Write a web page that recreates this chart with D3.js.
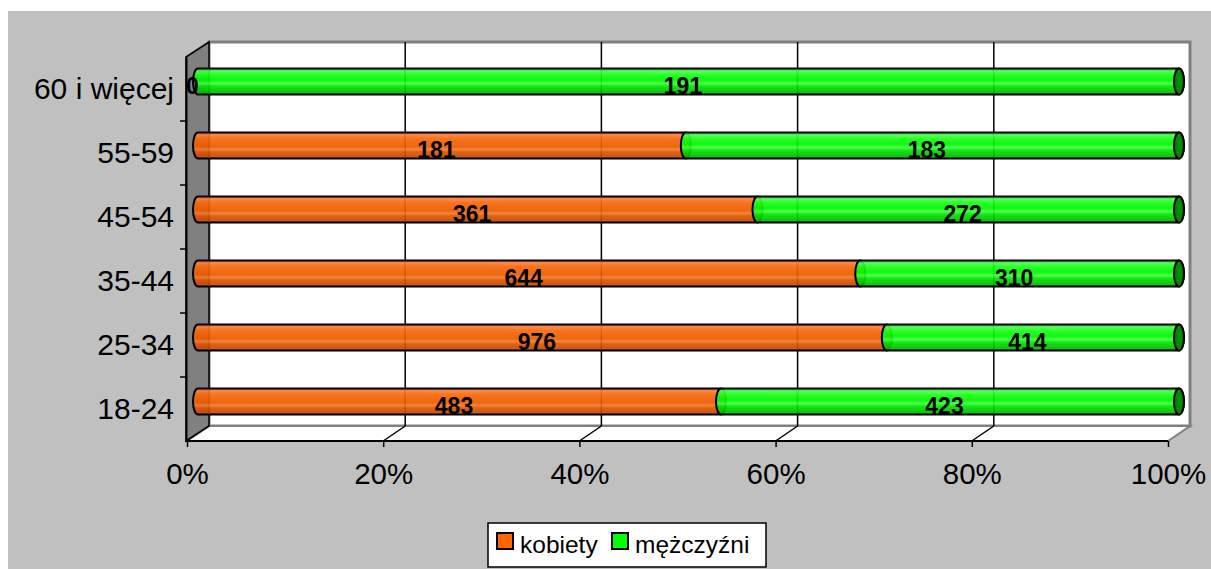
<!DOCTYPE html>
<html><head><meta charset="utf-8">
<script src="https://cdn.jsdelivr.net/npm/d3@7/dist/d3.min.js"></script>
<style>body{margin:0;background:#fff}svg{display:block}text{font-family:"Liberation Sans",Arial,sans-serif}</style>
</head><body>
<svg id="c" width="1211" height="569"></svg>
<script>
const categories = ["18-24","25-34","35-44","45-54","55-59","60 i więcej"];
const kobiety = [483, 976, 644, 361, 181, 0];
const mezczyzni = [423, 414, 310, 272, 183, 191];
const seriesNames = ["kobiety","mężczyźni"];
const xTicks = [0,0.2,0.4,0.6,0.8,1];

const svg = d3.select("#c");
const W=1211,H=569;
const DX=22, DY=-15;
const x = d3.scaleLinear().domain([0,1]).range([187,1168]);
const y = d3.scaleBand().domain(categories).range([441,57]).padding(0);
const x0=x(0), x1=x(1), yb=y.range()[0], yt=y.range()[1];

svg.append("rect").attr("x",8).attr("y",11).attr("width",W-8).attr("height",H-11).attr("fill","#C0C0C0");

const defs = svg.append("defs");
function grad(id, stops){
  const g = defs.append("linearGradient").attr("id",id).attr("x1",0).attr("y1",0).attr("x2",0).attr("y2",1);
  stops.forEach(s=>g.append("stop").attr("offset",s[0]).attr("stop-color",s[1]));
}
grad("gO",[[0,"#F06410"],[0.12,"#FF8030"],[0.22,"#F86812"],[0.42,"#F06000"],[0.55,"#E85C00"],[0.65,"#F87828"],[0.75,"#DC5600"],[1,"#B84800"]]);
grad("gG",[[0,"#00E400"],[0.12,"#4CFF4C"],[0.25,"#14FF14"],[0.45,"#00F400"],[0.58,"#38FF38"],[0.7,"#00E000"],[0.85,"#00C800"],[1,"#00AA00"]]);

// back wall
svg.append("rect").attr("x",x0+DX).attr("y",yt+DY).attr("width",x1-x0).attr("height",yb-yt)
  .attr("fill","#fff").attr("stroke","#808080").attr("stroke-width",3);
// floor
svg.append("polygon").attr("points",[[x0,yb],[x0+DX,yb+DY],[x1+DX,yb+DY],[x1,yb]].join(" "))
  .attr("fill","#fff").attr("stroke","#808080").attr("stroke-width",2);
// left wall
svg.append("polygon").attr("points",[[x0-1,yt],[x0+DX,yt+DY],[x0+DX,yb+DY],[x0-1,yb]].join(" "))
  .attr("fill","#808080").attr("stroke","#000").attr("stroke-width",1.5);
// gridlines back wall
svg.append("g").selectAll("line").data(xTicks.slice(1,-1)).join("line")
  .attr("x1",d=>x(d)+DX).attr("x2",d=>x(d)+DX).attr("y1",yt+DY).attr("y2",yb+DY)
  .attr("stroke","#000").attr("stroke-width",1.5);
// floor diagonals
svg.append("g").selectAll("line").data(xTicks.slice(1,-1)).join("line")
  .attr("x1",d=>x(d)).attr("x2",d=>x(d)+DX).attr("y1",yb).attr("y2",yb+DY)
  .attr("stroke","#000").attr("stroke-width",1.5);

// bars
const data = categories.map((c,i)=>{const t=kobiety[i]+mezczyzni[i];return {c, k:kobiety[i]/t, kv:kobiety[i], mv:mezczyzni[i]};});
const hd=0.5, bh=26, ry=bh/2, rx=5;
function cyl(a,b,cy){
  const xa=x(a)+DX*hd, xb=x(b)+DX*hd, t=cy-ry, bt=cy+ry;
  return `M${xa},${t}L${xb},${t}A${rx},${ry} 0 0 1 ${xb},${bt}L${xa},${bt}A${rx},${ry} 0 0 1 ${xa},${t}Z`;
}
const bars = svg.append("g");
data.forEach(d=>{
  const cy = y(d.c)+y.bandwidth()/2 + DY*hd;
  if(d.k>0) bars.append("path").attr("d",cyl(0,d.k,cy)).attr("fill","url(#gO)").attr("fill-opacity",0.92).attr("stroke","#000").attr("stroke-width",2);
  bars.append("path").attr("d",cyl(d.k,1,cy)).attr("fill","url(#gG)").attr("fill-opacity",0.92).attr("stroke","#000").attr("stroke-width",2);
  bars.append("ellipse").attr("cx",x(1)+DX*hd).attr("cy",cy).attr("rx",rx).attr("ry",ry)
    .attr("fill","#008A00").attr("stroke","#000").attr("stroke-width",2);
});
// labels
const lq=0.25;
const lab = svg.append("g").attr("font-weight","bold").attr("font-size",23).attr("text-anchor","middle");
data.forEach(d=>{
  const cy = y(d.c)+y.bandwidth()/2 + DY*lq;
  lab.append("text").attr("x",(x(0)+x(d.k))/2+DX*lq).attr("y",cy).attr("dy","0.36em").text(d.kv);
  lab.append("text").attr("x",(x(d.k)+x(1))/2+DX*lq).attr("y",cy).attr("dy","0.36em").text(d.mv);
});

// axes
const xa = svg.append("g").attr("transform",`translate(0,${yb})`)
  .call(d3.axisBottom(x).tickValues(xTicks).tickFormat(d3.format(".0%")).tickSize(6).tickPadding(16));
xa.select(".domain").attr("stroke","#000").attr("stroke-width",2).attr("d",`M${x0-1},0H${x1}`);
xa.selectAll(".tick line").attr("stroke","#000").attr("stroke-width",1.5);
xa.selectAll("text").attr("font-size",29.5).attr("fill","#000").style("font-family",'"Liberation Sans",Arial,sans-serif');

const ya = svg.append("g").attr("transform",`translate(${x0-1},0)`)
  .call(d3.axisLeft(y).tickSizeInner(0).tickSizeOuter(0).tickPadding(12));
ya.select(".domain").attr("stroke","#000").attr("stroke-width",2);
ya.selectAll("text").attr("font-size",30).attr("fill","#000").style("font-family",'"Liberation Sans",Arial,sans-serif');
ya.selectAll(".bnd").data(categories.slice(0,-1)).join("line").attr("class","bnd")
  .attr("x1",-6).attr("x2",0).attr("y1",d=>y(d)).attr("y2",d=>y(d)).attr("stroke","#000").attr("stroke-width",1.5);

// legend
const lg = svg.append("g");
lg.append("rect").attr("x",488).attr("y",523).attr("width",278).attr("height",44).attr("fill","#fff").attr("stroke","#000").attr("stroke-width",1.5);
const lcol=["#FF6600","#00FF00"], lx=[497,612];
seriesNames.forEach((n,i)=>{
  lg.append("rect").attr("x",lx[i]).attr("y",533).attr("width",16).attr("height",16).attr("fill",lcol[i]).attr("stroke","#000").attr("stroke-width",2);
  lg.append("text").attr("x",lx[i]+23).attr("y",553).attr("font-size",24.5).attr("fill","#000").text(n);
});
</script>
</body></html>
